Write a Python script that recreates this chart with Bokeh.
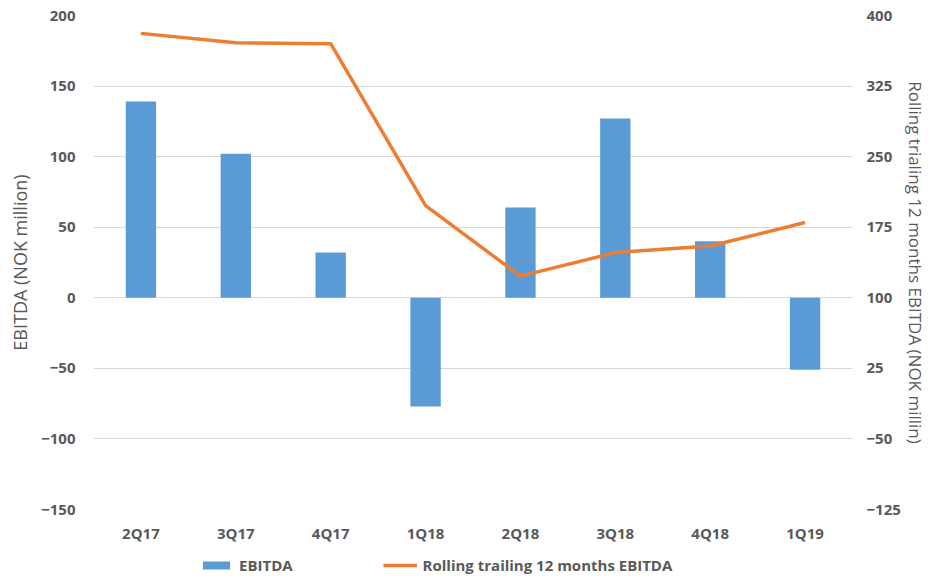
from bokeh.plotting import figure
from bokeh.layouts import column
from bokeh.models import (ColumnDataSource, FactorRange, Range1d, LinearAxis,
                          FixedTicker, Legend, LegendItem)
from bokeh.embed import file_html
from bokeh.resources import INLINE

# Quarterly EBITDA and rolling trailing 12-month EBITDA (NOK million)
quarters = ["2Q17", "3Q17", "4Q17", "1Q18", "2Q18", "3Q18", "4Q18", "1Q19"]
ebitda = [139, 102, 32, -77, 64, 127, 40, -51]
rolling_12m = [381, 371, 370, 198, 123, 148, 155, 180]

left_ticks = [-150, -100, -50, 0, 50, 100, 150, 200]
right_ticks = [-125, -50, 25, 100, 175, 250, 325, 400]

FONT = "Open Sans"
GREY = "#595959"
BLUE = "#5B9BD5"
ORANGE = "#ED7D31"

src = ColumnDataSource(data=dict(q=quarters, ebitda=ebitda, roll=rolling_12m))

p = figure(
    width=934, height=545,
    x_range=FactorRange(*quarters, range_padding=0),
    y_range=Range1d(-150, 200),
    output_backend="svg", toolbar_location=None,
    min_border_left=93, min_border_right=82,
    min_border_top=15, min_border_bottom=35,
)
p.outline_line_color = None
p.background_fill_color = "white"
p.border_fill_color = "white"

p.extra_y_ranges = {"roll": Range1d(-125, 400)}

p.vbar(x="q", top="ebitda", width=0.32, source=src,
       fill_color=BLUE, line_color=None)
p.line(x="q", y="roll", source=src, y_range_name="roll",
       line_color=ORANGE, line_width=3.5, line_join="round")

# grid
p.xgrid.grid_line_color = None
p.ygrid.grid_line_color = "#D9D9D9"
p.ygrid.grid_line_width = 1

def style_axis(ax, label_size="17px"):
    ax.axis_line_color = None
    ax.major_tick_line_color = None
    ax.minor_tick_line_color = None
    ax.major_tick_in = 0
    ax.major_tick_out = 0
    ax.minor_tick_in = 0
    ax.minor_tick_out = 0
    ax.major_label_text_font = FONT
    ax.major_label_text_font_style = "bold"
    ax.major_label_text_font_size = "15px"
    ax.major_label_text_color = GREY
    ax.axis_label_text_font = FONT
    ax.axis_label_text_font_style = "normal"
    ax.axis_label_text_font_size = label_size
    ax.axis_label_text_color = GREY

# left axis
yl = p.yaxis[0]
yl.ticker = FixedTicker(ticks=left_ticks)
yl.axis_label = "EBITDA (NOK million)"
style_axis(yl, "18px")
yl.major_label_standoff = 18
yl.axis_label_standoff = 6

# right axis
yr = LinearAxis(y_range_name="roll", ticker=FixedTicker(ticks=right_ticks),
                axis_label="Rolling trialing 12 months EBITDA (NOK millin)")
style_axis(yr, "17px")
yr.major_label_standoff = 14
yr.axis_label_standoff = 0
p.add_layout(yr, "right")

# bottom axis
xa = p.xaxis[0]
style_axis(xa)
xa.major_label_standoff = 13

# legend strip under the chart; its key renderers hold a single NaN row so
# they draw nothing on the strip but still give the legend its swatches
nan = float("nan")
lg = figure(width=934, height=32, output_backend="svg", toolbar_location=None,
            x_range=Range1d(0, 1), y_range=Range1d(0, 1),
            x_axis_location=None, y_axis_location=None,
            min_border=0, min_border_left=0, min_border_right=0,
            min_border_top=0, min_border_bottom=0)
lg.outline_line_color = None
lg.xgrid.grid_line_color = None
lg.ygrid.grid_line_color = None
bar_key = lg.vbar(x=[nan], top=[nan], width=0.32, fill_color=BLUE, line_color=None)
line_key = lg.line(x=[nan], y=[nan], line_color=ORANGE, line_width=3.5)

legend = Legend(
    items=[LegendItem(label="EBITDA", renderers=[bar_key]),
           LegendItem(label="Rolling trailing 12 months EBITDA", renderers=[line_key])],
    orientation="horizontal",
    location=(106, 2),
    border_line_color=None,
    background_fill_alpha=0,
    padding=0, margin=0,
    spacing=90,
    glyph_width=34, glyph_height=10,
    label_standoff=6,
    label_height=20,
    label_text_font=FONT,
    label_text_font_style="bold",
    label_text_font_size="15px",
    label_text_color=GREY,
)
lg.add_layout(legend, "center")

open("out.html", "w").write(file_html(column(p, lg, spacing=0), INLINE))
